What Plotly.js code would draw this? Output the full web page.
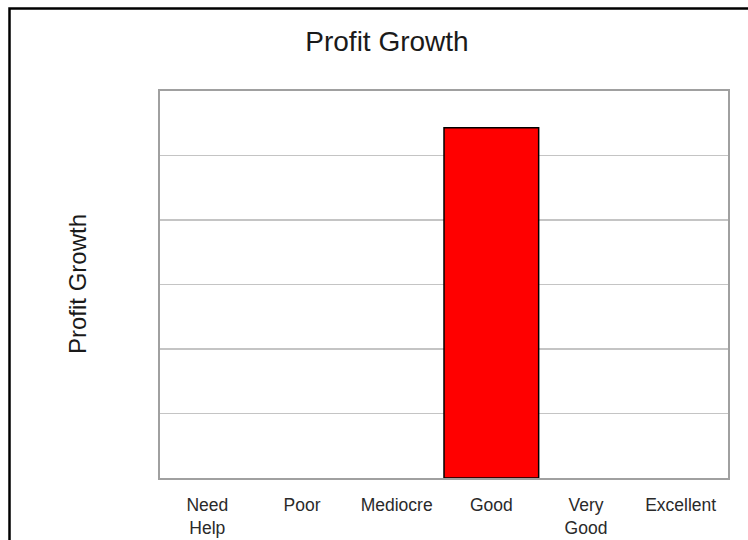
<!DOCTYPE html>
<html>
<head>
<meta charset="utf-8">
<script src="https://cdn.plot.ly/plotly-3.0.1.min.js"></script>
<style>
html,body{margin:0;padding:0;background:#fff;}
#chart{width:748px;height:540px;}
</style>
</head>
<body>
<div id="chart"></div>
<script>
var categories = ["Need Help", "Poor", "Mediocre", "Good", "Very Good", "Excellent"];
var tickLabels = ["Need<br>Help", "Poor", "Mediocre", "Good", "Very<br>Good", "Excellent"];
var profitGrowth = [0, 0, 0, 5.43, 0, 0];

var trace = {
  type: "bar",
  x: categories,
  y: profitGrowth,
  marker: {
    color: "#ff0000",
    line: {color: "#000000", width: profitGrowth.map(function (v) { return v > 0 ? 1.5 : 0; })}
  },
  hoverinfo: "x+y"
};

var layout = {
  width: 748, height: 540,
  margin: {l: 160, r: 20, t: 91, b: 62},
  paper_bgcolor: "#ffffff",
  plot_bgcolor: "#ffffff",
  font: {family: "Liberation Sans, Arial, sans-serif", color: "#222"},
  bargap: 0,
  showlegend: false,
  title: {
    text: "Profit Growth",
    font: {size: 28, color: "#1a1a1a"},
    x: 387/748, xref: "container", xanchor: "center",
    y: 1 - 41/540, yref: "container", yanchor: "middle"
  },
  xaxis: {
    type: "category",
    tickvals: categories,
    ticktext: tickLabels,
    tickfont: {size: 17.5, color: "#2a2a2a"},
    ticks: "",
    ticklabelstandoff: 10,
    showline: true, linecolor: "#a0a0a0", linewidth: 2, mirror: true,
    showgrid: false, zeroline: false, fixedrange: true
  },
  yaxis: {
    range: [0, 6],
    dtick: 1,
    showticklabels: false,
    ticks: "",
    showgrid: true, gridcolor: "#c4c4c4", gridwidth: 1.5,
    showline: true, linecolor: "#a0a0a0", linewidth: 2, mirror: true,
    zeroline: false, fixedrange: true
  },
  annotations: [{
    text: "Profit Growth",
    xref: "paper", yref: "paper",
    x: (77 - 160) / 568, y: (478 - 284) / 387,
    xanchor: "center", yanchor: "middle",
    textangle: -90,
    showarrow: false,
    font: {size: 24, color: "#1a1a1a"}
  }],
  shapes: [{
    type: "rect", xref: "paper", yref: "paper",
    x0: (9.5 - 160) / 568, x1: 1.3,
    y0: -0.4, y1: (478 - 8.5) / 387,
    line: {color: "#000000", width: 2.5},
    fillcolor: "rgba(0,0,0,0)",
    layer: "below"
  }]
};

Plotly.newPlot("chart", [trace], layout, {displayModeBar: false, staticPlot: true});
</script>
</body>
</html>
